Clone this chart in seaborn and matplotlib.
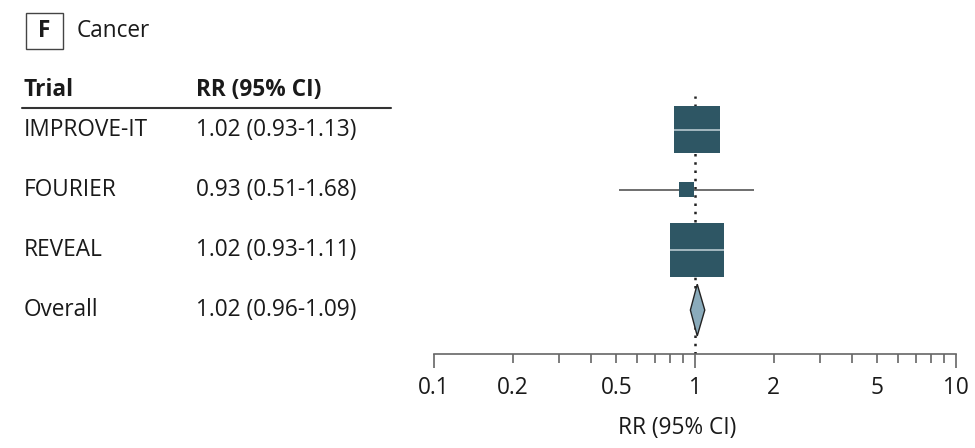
import numpy as np
import pandas as pd
import matplotlib.pyplot as plt
import matplotlib.transforms as mtransforms
from matplotlib.patches import Polygon, Rectangle
from matplotlib.lines import Line2D
from matplotlib.ticker import FixedLocator, FixedFormatter
import seaborn as sns

# ============================
# Data
# ============================
trials = ["IMPROVE-IT", "FOURIER", "REVEAL"]
rr = [1.02, 0.93, 1.02]
ci_low = [0.93, 0.51, 0.93]
ci_high = [1.13, 1.68, 1.11]
weights = [40.3, 4.3, 55.4]          # % weight
rr_labels = ["1.02 (0.93-1.13)", "0.93 (0.51-1.68)", "1.02 (0.93-1.11)"]

overall_label = "Overall"
overall_rr = 1.02
overall_low = 0.96
overall_high = 1.09
overall_text = "1.02 (0.96-1.09)"

tick_values = [0.1, 0.2, 0.5, 1, 2, 5, 10]
tick_labels = ["0.1", "0.2", "0.5", "1", "2", "5", "10"]

# ============================
# Style
# ============================
sns.set_style("white")
plt.rcParams['font.family'] = ['Open Sans', 'DejaVu Sans']

box_color = "#2e5664"
diamond_color = "#8aabbb"
line_color = "#555555"
text_color = "#1a1a1a"
FS = 16.3

W, H = 975, 448
fig = plt.figure(figsize=(W / 100, H / 100), dpi=100)

# forest axes: x from 0.1 (px 434) to 10 (px 956), axis line at px 354
ax = fig.add_axes([434 / W, 1 - 354 / H, (956 - 434) / W, (354 - 96) / H])
ax.set_xscale("log")
ax.set_xlim(0.1, 10)
ax.set_ylim(3.73, -0.557)

df = pd.DataFrame({"trial": trials, "rr": rr, "lo": ci_low, "hi": ci_high,
                   "w": weights, "row": np.arange(len(trials))})

# CI lines
ax.hlines(df["row"], df["lo"], df["hi"], color=line_color, lw=1.2, zorder=2)

# null line
ax.axvline(1, color="#222222", lw=1.8, ls=(0, (1, 2.3)), zorder=1)

# weighted boxes (side in points proportional to sqrt(weight))
side_pt = {w: 54 * 0.72 * np.sqrt(w / max(weights)) for w in weights}
sns.scatterplot(data=df, x="rr", y="row", size="w",
                sizes={w: s ** 2 for w, s in side_pt.items()},
                marker="s", color=box_color, edgecolor="none",
                legend=False, ax=ax, zorder=3)
# light center line across the larger boxes
for _, r in df.iterrows():
    if r["w"] > 10:
        ax.plot(r["rr"], r["row"], marker="_", markersize=side_pt[r["w"]],
                markeredgewidth=1.4, color="#a4b8c0", zorder=4)

# overall diamond
orow = len(trials)
dh = 0.43
ax.add_patch(Polygon([(overall_low, orow), (overall_rr, orow - dh),
                      (overall_high, orow), (overall_rr, orow + dh)],
                     closed=True, facecolor=diamond_color, edgecolor="#222222",
                     lw=1.0, zorder=3))

# axis styling
for s in ["top", "right", "left"]:
    ax.spines[s].set_visible(False)
ax.spines["bottom"].set_color("#666666")
ax.spines["bottom"].set_linewidth(1.2)
ax.set_yticks([])
ax.xaxis.set_major_locator(FixedLocator([0.1, 1, 10]))
ax.xaxis.set_major_formatter(FixedFormatter(["0.1", "1", "10"]))
minor = [round(v, 3) for d in (0.1, 1) for v in (np.arange(2, 10) * d)]
ax.xaxis.set_minor_locator(FixedLocator(minor))
ax.xaxis.set_minor_formatter(FixedFormatter(
    [tick_labels[tick_values.index(m)] if m in tick_values else "" for m in minor]))
ax.tick_params(axis="x", which="both", bottom=True, direction="out")
ax.tick_params(axis="x", which="major", length=10, width=1.2, color="#666666",
               labelsize=FS, labelcolor=text_color, pad=6)
ax.tick_params(axis="x", which="minor", length=6.5, width=1.2, color="#666666",
               labelsize=FS, labelcolor=text_color, pad=9.5)
ax.set_xlabel("")
ax.set_ylabel("")
ax.patch.set_alpha(0)

fig.text(677 / W, 1 - 428 / H, "RR (95% CI)", fontsize=FS, color=text_color,
         ha="center", va="center")

# ============================
# Left-hand table
# ============================
tr = mtransforms.blended_transform_factory(fig.transFigure, ax.transData)
rows_txt = list(zip(trials, rr_labels)) + [(overall_label, overall_text)]
for i, (name, val) in enumerate(rows_txt):
    fig.text(24 / W, i, name, transform=tr, fontsize=FS, color=text_color, va="center")
    fig.text(196 / W, i, val, transform=tr, fontsize=FS, color=text_color, va="center")

fig.text(24 / W, 1 - 90 / H, "Trial", fontsize=FS, fontweight="bold",
         color=text_color, va="center")
fig.text(196 / W, 1 - 90 / H, "RR (95% CI)", fontsize=FS, fontweight="bold",
         color=text_color, va="center")
fig.add_artist(Line2D([22 / W, 391 / W], [1 - 108 / H, 1 - 108 / H],
                      color="#333333", lw=1.5))

# panel tag
fig.add_artist(Rectangle((26 / W, 1 - 49 / H), 37 / W, 36 / H, fill=False,
                         edgecolor="#444444", lw=1.0))
fig.text(44.5 / W, 1 - 31 / H, "F", fontsize=FS, fontweight="bold",
         color=text_color, ha="center", va="center")
fig.text(77 / W, 1 - 31 / H, "Cancer", fontsize=FS, color=text_color, va="center")

fig.savefig("out.png", dpi=100)
